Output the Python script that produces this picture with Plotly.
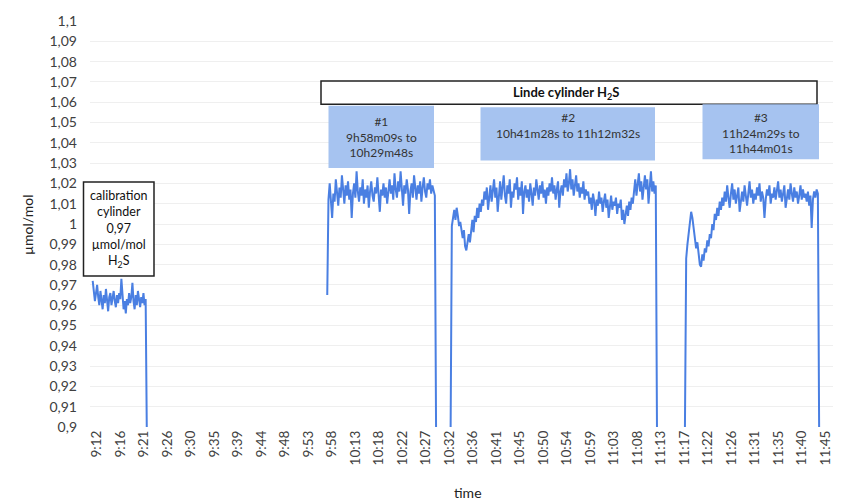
import numpy as np
import plotly.graph_objects as go

# ---------------- data ----------------
time_labels = ["9:12", "9:16", "9:21", "9:26", "9:30", "9:35", "9:39", "9:44", "9:48", "9:53",
               "9:58", "10:13", "10:18", "10:22", "10:27", "10:32", "10:36", "10:41", "10:45",
               "10:50", "10:54", "10:59", "11:03", "11:08", "11:13", "11:17", "11:22", "11:26",
               "11:31", "11:35", "11:40", "11:45"]

y_tick_values = [0.90, 0.91, 0.92, 0.93, 0.94, 0.95, 0.96, 0.97, 0.98, 0.99, 1.00,
                 1.01, 1.02, 1.03, 1.04, 1.05, 1.06, 1.07, 1.08, 1.09, 1.10]
y_tick_labels = ["0,9", "0,91", "0,92", "0,93", "0,94", "0,95", "0,96", "0,97", "0,98", "0,99", "1",
                 "1,01", "1,02", "1,03", "1,04", "1,05", "1,06", "1,07", "1,08", "1,09", "1,1"]

# recording spans, in time-label slots
calib_span = (-0.17, 2.13)
run1_span = (9.81, 14.44)
run2_span = (15.06, 23.84)
run3_span = (25.03, 30.74)

calib_values = [0.972, 0.968, 0.962, 0.966, 0.970, 0.964, 0.960, 0.967, 0.963, 0.958, 0.965, 0.961,
                0.968, 0.963, 0.957, 0.964, 0.966, 0.960, 0.963, 0.967, 0.962, 0.959, 0.965, 0.961,
                0.966, 0.963, 0.973, 0.964, 0.958, 0.962, 0.956, 0.963, 0.960, 0.966, 0.961, 0.964,
                0.971, 0.962, 0.958, 0.965, 0.960, 0.967, 0.962, 0.959, 0.964, 0.961, 0.966, 0.960,
                0.963, 0.900]

run1_values = [0.965, 1.012, 1.020, 1.008, 1.003, 1.015, 1.011, 1.022, 1.014, 1.009, 1.018, 1.013,
               1.024, 1.016, 1.010, 1.019, 1.014, 1.021, 1.012, 1.017, 1.003, 1.015, 1.020, 1.013,
               1.026, 1.016, 1.011, 1.018, 1.014, 1.022, 1.010, 1.017, 1.013, 1.019, 1.008, 1.016,
               1.021, 1.014, 1.011, 1.018, 1.015, 1.023, 1.012, 1.006, 1.017, 1.014, 1.020, 1.013,
               1.018, 1.010, 1.016, 1.022, 1.015, 1.019, 1.012, 1.025, 1.017, 1.013, 1.021, 1.016,
               1.026, 1.014, 1.009, 1.019, 1.015, 1.022, 1.017, 1.005, 1.016, 1.020, 1.013, 1.024,
               1.017, 1.012, 1.019, 1.015, 1.021, 1.011, 1.018, 1.023, 1.016, 1.013, 1.020, 1.017,
               1.022, 1.015, 1.019, 1.016, 1.014, 0.900]

run2_values = [0.900, 0.999, 1.003, 1.007, 1.002, 1.008, 1.004, 0.999, 1.001, 0.996, 0.993, 0.997,
               0.989, 0.987, 0.992, 0.995, 0.991, 0.998, 1.002, 0.996, 1.004, 1.001, 1.008, 1.003,
               1.010, 1.006, 1.012,
               1.009, 1.016, 1.012, 1.018, 1.007, 1.014, 1.019, 1.011, 1.016, 1.022, 1.013, 1.018,
               1.006, 1.015, 1.021, 1.012, 1.017, 1.024, 1.014, 1.010, 1.019, 1.015, 1.022, 1.008,
               1.016, 1.013, 1.020, 1.017, 1.023, 1.012, 1.018, 1.014, 1.021, 1.005, 1.016, 1.019,
               1.013, 1.017, 1.011, 1.020, 1.015, 1.009, 1.018, 1.014, 1.022, 1.016, 1.012, 1.019,
               1.015, 1.021, 1.013, 1.017, 1.010, 1.018, 1.014, 1.020, 1.016, 1.023, 1.015, 1.019,
               1.012, 1.017, 1.021, 1.008, 1.016, 1.019, 1.014, 1.022, 1.018, 1.025, 1.016, 1.020,
               1.027, 1.017, 1.022, 1.014, 1.019, 1.024, 1.016, 1.020, 1.013, 1.018, 1.015, 1.021,
               1.012, 1.017, 1.014,
               1.016, 1.010, 1.013, 1.007, 1.015, 1.011, 1.004, 1.012, 1.009, 1.016, 1.010, 1.013,
               1.006, 1.011, 1.015, 1.008, 1.012, 1.003, 1.010, 1.014, 1.007, 1.011, 1.009, 1.013,
               1.005, 1.010, 1.008, 1.012, 1.002, 1.007, 1.000, 1.005, 1.009, 1.004, 1.011, 1.007,
               1.013, 1.010,
               1.017, 1.022, 1.014, 1.020, 1.025, 1.016, 1.021, 1.012, 1.019, 1.024, 1.017, 1.022,
               1.010, 1.018, 1.026, 1.016, 1.021, 1.015, 1.019, 0.900]

run3_values = [0.900, 0.983, 0.990, 0.996, 1.001, 1.006, 1.003, 0.997, 0.993, 0.988, 0.991, 0.984,
               0.980, 0.979, 0.985, 0.982, 0.988, 0.986, 0.992, 0.989, 0.995, 0.993, 1.000, 0.997,
               1.005, 1.002, 1.008, 1.004, 1.011, 1.007, 1.013, 1.009,
               1.016, 1.011, 1.019, 1.013, 1.008, 1.015, 1.020, 1.012, 1.017, 1.010, 1.014, 1.018,
               1.006, 1.013, 1.016, 1.011, 1.019, 1.014, 1.009, 1.015, 1.021, 1.013, 1.017, 1.010,
               1.015, 1.012, 1.018, 1.014, 1.020, 1.011, 1.016, 1.013, 1.003, 1.012, 1.017, 1.014,
               1.019, 1.010, 1.015, 1.013, 1.018, 1.012, 1.016, 1.021, 1.013, 1.017, 1.011, 1.015,
               1.019, 1.008, 1.014, 1.017, 1.012, 1.020, 1.015, 1.011, 1.018, 1.013, 1.016, 1.010,
               1.014, 1.019, 1.012, 1.017, 1.013, 1.015, 1.011, 1.016, 1.009, 1.014, 0.998, 1.012,
               1.016, 1.013, 1.017, 1.015, 0.900]

# ---------------- build trace ----------------
xs, ys = [], []
for span, vals in [(calib_span, calib_values), (run1_span, run1_values),
                   (run2_span, run2_values), (run3_span, run3_values)]:
    t = np.linspace(span[0], span[1], len(vals))
    xs.extend(t.tolist())
    ys.extend(vals)
    xs.append(None)
    ys.append(None)

FONT = "Lato, 'Open Sans', sans-serif"
W, H = 847, 503
L, R, T, B = 90, 833, 17, 427  # plot area in pixels


def px(x):
    return (x - L) / (R - L)


def py(y):
    return (B - y) / (B - T)


fig = go.Figure()
fig.add_trace(go.Scatter(x=xs, y=ys, mode="lines", connectgaps=False,
                         line=dict(color="#4a7fe2", width=2), showlegend=False,
                         hoverinfo="skip"))

shapes = []
annotations = []


def label(x, y, text, size, color, **kw):
    annotations.append(dict(xref="paper", yref="paper", x=px(x), y=py(y), showarrow=False,
                            xanchor="center", yanchor="middle", text=text, align="center",
                            font=dict(family=FONT, size=size, color=color), **kw))


# calibration box
shapes.append(dict(type="rect", xref="paper", yref="paper", layer="above",
                   x0=px(83.5), x1=px(154), y0=py(274.5), y1=py(179.5),
                   fillcolor="white", line=dict(color="#222222", width=1.5)))
label(118.7, 227, "calibration<br>cylinder<br>0,97<br>µmol/mol<br>H<sub>2</sub>S", 12.5, "#111111")

# Linde box
shapes.append(dict(type="rect", xref="paper", yref="paper", layer="above",
                   x0=px(321), x1=px(817), y0=py(101), y1=py(77.5),
                   fillcolor="white", line=dict(color="#222222", width=1.5)))
label(566, 89.5, "<b>Linde cylinder H<sub>2</sub>S</b>", 13, "#111111")

# blue run boxes
blue = "#a6c3f0"
run_boxes = [
    ((328.5, 434, 102.5, 165.5), "#1<br>9h58m09s to<br>10h29m48s", 134),
    ((480.5, 655, 104, 158), "#2<br>10h41m28s to 11h12m32s", 123),
    ((702.5, 819, 101, 156.5), "#3<br>11h24m29s to<br>11h44m01s", 130),
]
for (x0, x1, y0, y1), txt, cy in run_boxes:
    shapes.append(dict(type="rect", xref="paper", yref="paper", layer="above",
                       x0=px(x0), x1=px(x1), y0=py(y1), y1=py(y0),
                       fillcolor=blue, line=dict(width=0)))
    label((x0 + x1) / 2, cy, txt, 12, "#333333")

# axis titles
label(27, 222, "µmol/mol", 14, "#222222", textangle=-90)
label(468, 493, "time", 14, "#222222")

fig.update_layout(
    width=W, height=H,
    margin=dict(l=L, r=W - R, t=T, b=H - B, pad=0),
    paper_bgcolor="white", plot_bgcolor="white",
    shapes=shapes, annotations=annotations,
    font=dict(family=FONT, color="#404040"),
)
fig.update_xaxes(range=[-0.285, 31.33], tickmode="array",
                 tickvals=list(range(len(time_labels))), ticktext=time_labels,
                 tickangle=-90, tickfont=dict(family=FONT, size=13.5, color="#404040"),
                 showgrid=False, zeroline=False, showline=False, ticks="")
fig.update_yaxes(range=[0.9, 1.1], tickmode="array", tickvals=y_tick_values,
                 ticktext=y_tick_labels, tickfont=dict(family=FONT, size=14, color="#404040"),
                 showgrid=True, gridcolor="#efefef", gridwidth=1, zeroline=False,
                 showline=False, ticks="", ticklabelstandoff=12)

fig.write_html("out.html")
